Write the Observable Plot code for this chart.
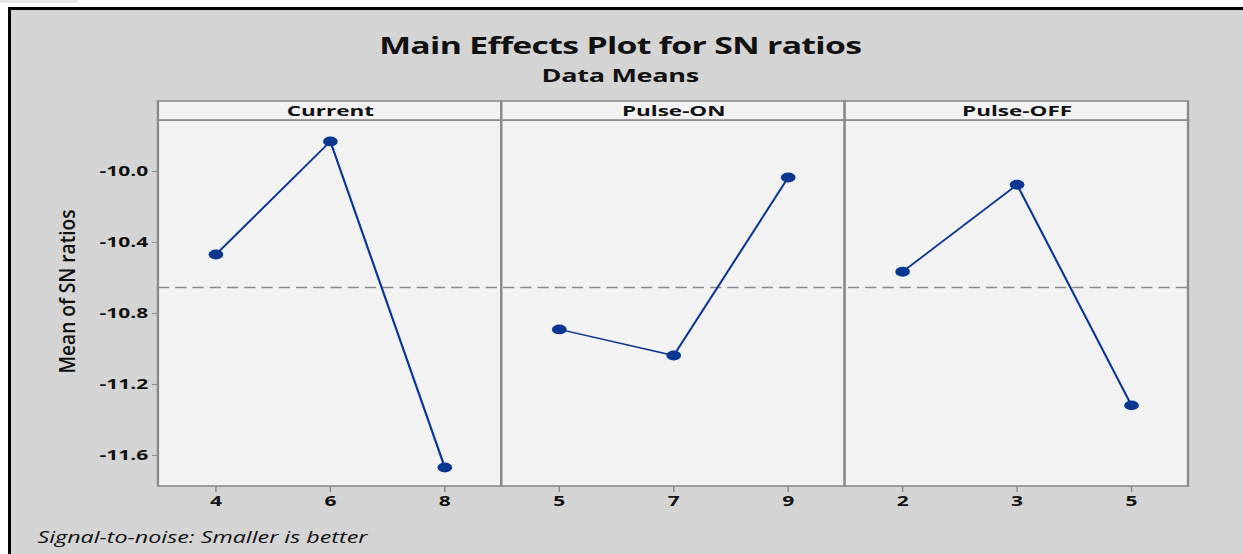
<!DOCTYPE html>
<html>
<head>
<meta charset="utf-8">
<script src="https://cdn.jsdelivr.net/npm/d3@7"></script>
<script src="https://cdn.jsdelivr.net/npm/@observablehq/plot@0.6"></script>
<style>
  html, body { margin: 0; padding: 0; background: #ffffff; width: 1243px; height: 554px; overflow: hidden; }
  #frame { position: absolute; left: 8px; top: 7px; width: 1240px; height: 550px;
           border-left: 3px solid #000; border-top: 3px solid #000; background: #d4d4d4; }
  #tab { position: absolute; left: 0; top: 0; width: 78px; height: 3px; background: #e6e6e6; }
  /* the reference image is stretched horizontally; draw at base width and stretch */
  #stage { position: absolute; left: 0; top: 0; width: 829px; height: 554px;
           transform: scaleX(1.5); transform-origin: 0 0; font-family: "Open Sans", sans-serif; color: #111; }
  .t { position: absolute; left: 0; width: 827px; text-align: center; font-weight: bold; line-height: 1; white-space: nowrap; }
  #title { top: 35px; font-size: 22.5px; letter-spacing: -0.45px; }
  #subtitle { top: 66px; font-size: 18px; letter-spacing: -0.2px; }
  #caption { position: absolute; left: 25px; top: 530px; font-size: 15.5px; font-style: italic; line-height: 1; white-space: nowrap; }
  #stage svg { position: absolute; left: 0; top: 0; }
</style>
</head>
<body>
<div id="tab"></div>
<div id="frame"></div>
<div id="stage">
  <div class="t" id="title">Main Effects Plot for SN ratios</div>
  <div class="t" id="subtitle">Data Means</div>
  <div id="caption">Signal-to-noise: Smaller is better</div>
</div>
<script>
// ---- data ----
const factors = ["Current", "Pulse-ON", "Pulse-OFF"];
const currentLevels = [4, 6, 8];
const pulseOnLevels = [5, 7, 9];
const pulseOffLevels = [2, 3, 5];
const currentSN = [-10.468, -9.831, -11.668];
const pulseOnSN = [-10.890, -11.037, -10.034];
const pulseOffSN = [-10.565, -10.075, -11.318];
const yTicks = [-10.0, -10.4, -10.8, -11.2, -11.6];
const yLabel = "Mean of SN ratios";

// ---- build table ----
const levelSets = [currentLevels, pulseOnLevels, pulseOffLevels];
const snSets = [currentSN, pulseOnSN, pulseOffSN];
const rows = [];
factors.forEach((f, fi) => {
  levelSets[fi].forEach((lv, li) => {
    rows.push({factor: f, fi, level: lv, pos: fi * levelSets[fi].length + li, sn: snSets[fi][li]});
  });
});
const levelLabels = rows.map(d => String(d.level));
const grandMean = d3.mean(rows, d => d.sn);
const per = currentLevels.length;
const panels = factors.map((f, i) => ({factor: f, x1: i * per - 0.5, x2: i * per + per - 0.5}));

const yDomain = [-11.775, -9.713];
const stripTop = yDomain[1] + (yDomain[1] - yDomain[0]) * 19 / 366;
const navy = "#0b3790";
const border = "#8a8a8a";

const W = 829, H = 520, mTop = 120, mBottom = 34, mLeft = 105.3, mRight = 37;

const chart = Plot.plot({
  width: W, height: H,
  marginTop: mTop, marginBottom: mBottom, marginLeft: mLeft, marginRight: mRight,
  style: {background: "transparent", fontFamily: "Open Sans, sans-serif", overflow: "visible"},
  x: {type: "linear", domain: [-0.5, rows.length - 0.5]},
  y: {domain: yDomain},
  marks: [
    Plot.rect(panels, {x1: "x1", x2: "x2", y1: () => yDomain[0], y2: () => yDomain[1],
      fill: "#f2f2f2", stroke: border, strokeWidth: 1.6}),
    Plot.rect(panels, {x1: "x1", x2: "x2", y1: () => yDomain[1], y2: () => stripTop,
      fill: "#f2f2f2", stroke: border, strokeWidth: 1.6}),
    Plot.ruleY([grandMean], {stroke: "#8a8a8a", strokeWidth: 1.5, strokeDasharray: "7.5,4"}),
    Plot.line(rows, {x: "pos", y: "sn", z: "factor", stroke: navy, strokeWidth: 1.5}),
    Plot.dot(rows, {x: "pos", y: "sn", r: 4.9, fill: navy, stroke: "none"}),
    Plot.text(panels, {x: d => (d.x1 + d.x2) / 2, y: () => (yDomain[1] + stripTop) / 2,
      text: "factor", fontSize: 15, fontWeight: "bold", fill: "#111", lineAnchor: "middle"}),
    Plot.axisY(yTicks, {tickFormat: d => d.toFixed(1), tickSize: 4, tickPadding: 3,
      fontSize: 14, fontWeight: "bold", stroke: border, fill: "#111", label: null}),
    Plot.axisX(d3.range(rows.length), {tickFormat: i => levelLabels[i], tickSize: 6, tickPadding: 4,
      fontSize: 14, fontWeight: "bold", stroke: border, fill: "#111", label: null}),
    Plot.text([yLabel], {frameAnchor: "left", dx: -60.3, dy: 70, rotate: -90, textAnchor: "start",
      fontSize: 14.5, fontWeight: 600, fill: "#111", lineAnchor: "middle"})
  ]
});
document.getElementById("stage").appendChild(chart);
chart.querySelectorAll("text").forEach(t => {
  if (t.textContent === yLabel) {
    t.setAttribute("textLength", "164");
    t.setAttribute("lengthAdjust", "spacingAndGlyphs");
  }
});
</script>
</body>
</html>
